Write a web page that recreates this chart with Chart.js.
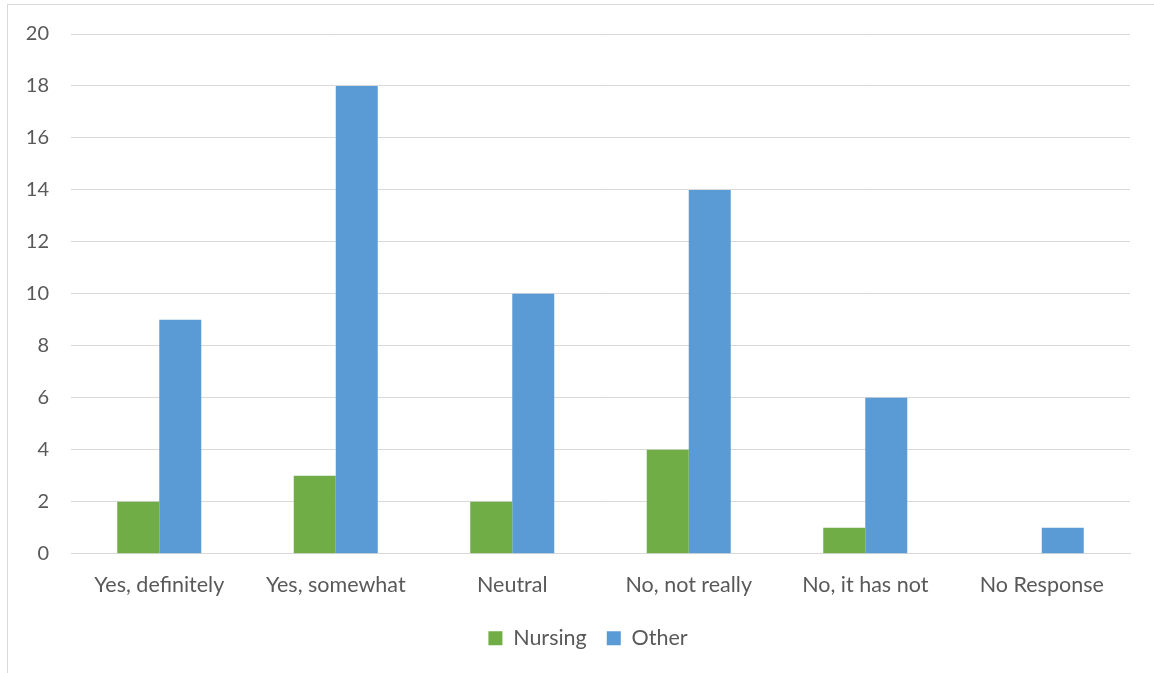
<!DOCTYPE html>
<html>
<head>
<meta charset="utf-8">
<script src="https://cdn.jsdelivr.net/npm/chart.js@4"></script>
<style>
  html, body { margin: 0; padding: 0; background: #fff; }
  #wrap { position: relative; width: 1154px; height: 673px; }
  #frame { position: absolute; left: 7px; top: 4px; width: 1150px; height: 672px; border: 1px solid #d9d9d9; box-sizing: border-box; }
  #c { position: absolute; left: 0; top: 0; }
</style>
</head>
<body>
<div id="wrap">
  <div id="frame"></div>
  <canvas id="c" width="1154" height="673"></canvas>
</div>
<script>
const categories = ["Yes, definitely", "Yes, somewhat", "Neutral", "No, not really", "No, it has not", "No Response"];
const nursing = [2, 3, 2, 4, 1, 0];
const other = [9, 18, 10, 14, 6, 1];
const yTicks = [0, 2, 4, 6, 8, 10, 12, 14, 16, 18, 20];

const textColor = "#595959";
const gridColor = "#d9d9d9";
const fontFamily = "Lato, 'Open Sans', sans-serif";

// Place the legend a little left of the plot centre and tuck it closer to the axis labels
const legendPlace = {
  id: "legendPlace",
  afterLayout(chart) {
    const lg = chart.legend;
    if (!lg) return;
    const dx = 588 - (lg.left + lg.right) / 2;
    lg.left += dx;
    lg.right += dx;
    lg.top -= 8;
    lg.bottom -= 8;
  }
};

new Chart(document.getElementById("c"), {
  type: "bar",
  data: {
    labels: categories,
    datasets: [
      { label: "Nursing", data: nursing, backgroundColor: "#70ad47", borderWidth: 0 },
      { label: "Other", data: other, backgroundColor: "#5b9bd5", borderWidth: 0 }
    ]
  },
  options: {
    responsive: false,
    animation: false,
    devicePixelRatio: 1,
    layout: { padding: { left: 0, right: 24, top: 25, bottom: 6 } },
    datasets: { bar: { categoryPercentage: 0.476, barPercentage: 1 } },
    plugins: {
      tooltip: { enabled: false },
      legend: {
        position: "bottom",
        labels: {
          boxWidth: 14,
          boxHeight: 14,
          padding: 20,
          color: textColor,
          font: { family: fontFamily, size: 21.5 }
        }
      }
    },
    scales: {
      x: {
        grid: { display: false, drawTicks: false },
        border: { display: true, color: gridColor, width: 1 },
        ticks: { color: textColor, padding: 18, maxRotation: 0, font: { family: fontFamily, size: 21.5 } }
      },
      y: {
        min: 0,
        max: 20,
        afterBuildTicks: (scale) => { scale.ticks = yTicks.map(v => ({ value: v })); },
        afterFit: (scale) => { scale.width = 71; },
        grid: { color: gridColor, lineWidth: 1, drawTicks: false },
        border: { display: false },
        ticks: { color: textColor, padding: 22, font: { family: fontFamily, size: 20 } }
      }
    }
  },
  plugins: [legendPlace]
});
</script>
</body>
</html>
